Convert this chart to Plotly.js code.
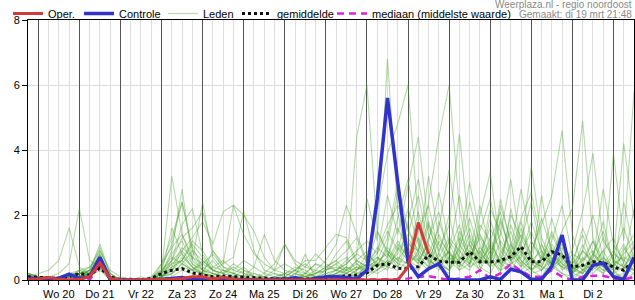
<!DOCTYPE html>
<html>
<head>
<meta charset="utf-8">
<script src="https://cdn.plot.ly/plotly-3.0.1.min.js"></script>
<style>
  html, body { margin: 0; padding: 0; background: #fff; }
  #chart { width: 635px; height: 300px; }
</style>
</head>
<body>
<div id="chart"></div>
<script>
// ---------- data (6-hourly values, first step 19 mrt 18:00) ----------
const startTime = '2024-03-19 18:00';
const stepHours = 6;
const dayLabels = ['Wo 20','Do 21','Vr 22','Za 23','Zo 24','Ma 25','Di 26','Wo 27','Do 28','Vr 29','Za 30','Zo 31','Ma 1','Di 2'];
const firstLabelNoon = '2024-03-20 12:00';
const firstMidnight = '2024-03-20 00:00';
const midnightCount = 15;
const endTime = '2024-04-03 12:00';

const oper = [0.02,0.03,0.08,0.02,0.01,0.02,0.1,0.53,0.05,0,
              0,0,0,0,0.02,0.05,0.1,0.1,0.03,0.08,
              0.02,0,0,0,0,0,0,0,0,0,
              0,0,0,0,0,0,0,0.4,1.77,0.8];

const controle = [0.05,0.03,0.05,0.05,0.18,0.05,0.1,0.7,0.02,0,
                  0,0,0,0.02,0.05,0.08,0.02,0,0.02,0.03,
                  0.02,0.01,0,0,0.02,0.02,0.07,0,0.05,0.1,
                  0.1,0.08,0.03,0.3,2.5,5.6,3.0,0.55,0.1,0.35,
                  0.5,0.02,0,0,0,0.1,0.02,0.33,0.25,0.02,
                  0.02,0.42,1.38,0,0,0.45,0.52,0.1,0.02,0.7];

const gemiddelde = [0.1,0.08,0.05,0.05,0.1,0.2,0.15,0.37,0.1,0.02,
                    0.02,0.01,0.05,0.2,0.3,0.35,0.22,0.15,0.1,0.12,
                    0.1,0.08,0.06,0.05,0.04,0.04,0.03,0.03,0.05,0.08,
                    0.1,0.12,0.15,0.22,0.45,0.5,0.36,0.35,0.41,0.77,
                    0.58,0.55,0.55,0.87,0.56,0.55,0.6,0.72,1.03,0.56,
                    0.56,0.87,0.77,0.4,0.45,0.56,0.53,0.4,0.3,0.6];

const mediaan = [0.12,0,0,0,0,0,0,0.5,0,0,
                 0,0,0,0,0,0,0,0,0,0,
                 0,0,0,0,0,0,0,0,0,0,
                 0,0,0,0,0,0.02,0.02,0.05,0.1,0.12,
                 0.05,0,0.05,0.1,0.3,0.05,0.2,0.5,0.28,0.1,
                 0.1,0.3,0.1,0,0.1,0.13,0.13,0.05,0,0.1];

const leden = [
 [0.1,0,0,0.1,0.2,0.1,0.3,0.6,0.1,0, 0,0,0,0.2,0.8,1.2,0.5,0.2,0.1,0.3, 0.1,0,0,0,0.1,0.2,0.1,0,0.1,0.2, 0.3,0.5,0.8,2.5,1.2,6.8,2.1,0.5,0.3,0.9, 0.4,0.2,1.5,0.8,0.3,1.2,2.1,0.6,0.2,0.4, 1.1,0.5,0.2,0,0.3,0.8,0.4,0.1,0.2,0.6],
 [0.2,0.1,0,0,0.1,0.2,0.2,0.9,0.2,0, 0,0,0,0.1,0.4,0.6,1.1,0.7,0.3,0.2, 0.5,0.3,0.1,0,0,0.1,0.3,0.5,0.2,0.3, 0.4,0.3,4.4,6.0,1.5,0.8,0.4,1.2,0.6,0.3, 1.8,0.9,0.3,0.5,1.4,0.7,0.2,2.2,0.9,0.3, 0.1,0.6,1.3,0.4,0.2,0.5,0.9,0.3,0,0.2],
 [0.1,0,0,0.1,0.1,0.3,0.4,0.7,0.1,0, 0,0,0.1,0.5,1.3,2.4,1.0,0.4,0.2,0.1, 0,0.1,0.2,0.1,0,0,0.2,0.1,0.3,0.6, 1.1,2.3,1.4,0.6,2.1,3.9,4.8,6.0,1.8,0.7, 0.3,0.9,2.6,1.1,0.4,0.2,0.8,1.5,0.6,0.3, 0.7,1.9,0.8,0.2,0.5,1.2,0.4,0.2,0.9,1.4],
 [0.2,0.1,0.1,0,0,0.1,0.3,0.5,0,0, 0,0,0,0.3,3.2,1.4,0.6,0.3,0.1,0, 0.2,0.4,0.1,0,0,0.1,0,0,0.1,0.1, 0.2,0.4,0.3,0.6,0.9,1.7,2.3,1.6,0.8,2.4, 4.4,6.0,2.2,0.7,1.3,0.5,1.8,0.9,2.8,1.2, 0.6,1.5,0.8,0.3,1.1,0.4,0.2,0.8,1.6,0.7],
 [0,0,0,0.1,0.2,0.3,0.2,0.8,0.1,0, 0,0,0,0.2,0.6,1.7,2.2,0.8,0.3,0.5, 2.3,2.0,1.5,0.7,0.3,0.2,0.1,0.1,0.2,0.4, 0.3,0.6,0.9,1.2,0.8,2.6,1.4,2.9,4.4,1.6, 0.9,1.7,4.5,1.3,0.5,1.9,0.7,0.4,1.2,2.4, 0.8,0.3,0.6,0.2,0.9,0.5,1.3,0.6,0.4,0.8],
 [0.1,0.1,0,0,0.1,0.1,0.2,0.6,0,0, 0,0.1,0,0.1,0.3,0.9,0.5,0.3,0.2,0.1, 0.1,0,0,0.1,0.3,1.1,0.5,0.2,0.1,0.3, 0.5,0.2,0.6,0.9,0.4,1.1,2.7,0.8,0.5,1.3, 2.1,0.6,0.9,2.4,1.1,0.4,2.3,1.2,0.5,0.9, 1.7,2.6,4.6,1.4,0.4,0.7,1.8,0.5,0.3,1.1],
 [0.1,0.2,0.3,0.6,1.6,0.4,0.2,0.5,0.1,0, 0,0,0,0,0.2,0.5,0.3,0.2,0.9,0.4, 0.2,0.1,0,0,0.1,0,0.2,0.4,0.3,0.2, 0.1,0.3,0.6,0.4,1.0,0.7,1.9,3.1,1.2,0.6, 0.4,1.2,0.7,0.4,2.0,3.3,1.0,0.6,1.8,0.7, 0.3,0.8,1.5,2.2,4.9,1.3,0.6,0.4,1.0,0.5],
 [0.2,0.1,0.1,0.2,0.5,2.2,0.6,0.4,0.1,0, 0,0,0,0.1,0.5,0.8,0.4,0.2,0.1,0, 0,0,0.1,0.2,0.1,0,0,0.2,0.5,0.3, 0.8,1.2,0.5,0.3,0.7,0.4,0.9,1.4,2.6,1.0, 0.5,0.3,1.1,3.0,1.4,0.8,0.3,0.5,1.6,0.6, 0.4,1.1,0.6,0.9,2.1,3.9,1.2,0.7,4.2,1.9],
 [0.1,0,0,0,0.1,0.2,0.3,1.1,0.2,0, 0,0,0,0.1,0.4,1.0,0.7,0.5,0.3,0.2, 0.4,0.2,0.1,0,0,0.2,0.4,0.3,0.1,0, 0.2,0.4,0.2,0.3,0.5,0.9,0.6,1.1,0.9,3.2, 1.3,0.8,0.4,0.7,1.5,2.5,1.1,0.6,0.9,0.4, 2.6,0.8,0.5,0.3,0.6,0.9,0.4,3.9,1.2,5.8],
 [0.1,0.1,0,0,0.1,0.2,0.1,0.4,0,0, 0,0,0.1,0.3,0.6,0.9,1.3,1.8,1.1,2.1, 2.3,1.4,0.8,0.5,0.3,0.5,0.3,0.1,0.1,0.2, 0.3,0.2,0.1,0.5,0.3,0.6,1.2,0.7,2.1,0.8, 1.6,3.4,1.1,0.6,0.3,0.9,1.4,3.1,1.0,0.5, 0.3,0.6,1.0,0.4,0.2,0.6,2.8,1.1,0.6,0.3],
 [0,0,0,0,0,0.1,0.2,0.7,0.1,0, 0,0,0,0.4,1.1,2.4,0.9,0.3,0.6,0.2, 0.1,0,0,0,0,0,0,0.1,0.2,0.4, 0.6,0.9,1.3,0.5,0.8,1.5,0.9,2.2,1.1,0.5, 0.8,2.0,0.6,1.4,0.7,0.4,1.2,0.8,1.9,2.7, 1.1,0.4,0.7,0.2,0.1,0.4,0.7,0.3,0.5,2.2],
 [0.2,0.1,0,0.1,0.2,0.2,0.4,0.9,0.3,0.1, 0,0,0,0.2,0.9,2.8,0.6,2.4,0.7,0.3, 0.2,0.1,0,0.1,0.2,0.1,0,0,0.1,0.1, 0.2,0.3,0.2,0.4,0.6,1.3,3.0,1.5,0.9,1.8, 0.5,0.9,1.7,0.4,0.6,1.3,0.5,0.3,0.8,1.5, 0.6,1.2,2.3,0.7,0.3,0.2,0.5,0.9,0.4,0.2],
 [0.1,0,0,0,0.1,0.1,0.1,0.3,0,0, 0,0,0,0.1,0.2,0.4,0.3,0.5,0.8,0.4, 0.3,0.6,0.4,0.2,0.5,1.1,0.6,0.4,0.8,0.5, 0.3,0.2,0.4,0.2,0.3,0.5,0.8,1.3,0.7,0.4, 1.2,0.6,0.3,0.8,2.3,0.9,0.4,1.1,0.6,0.3, 0.5,0.9,0.3,0.6,1.4,0.5,0.2,0.6,1.1,0.4],
 [0.2,0.1,0.1,0,0,0.1,0.2,0.5,0.1,0, 0,0,0,0.1,0.3,0.7,0.4,0.2,0.1,0.1, 0,0,0,0,0.1,0.2,0.3,0.6,0.6,1.0, 1.4,1.3,0.6,0.4,1.5,0.9,0.5,1.8,3.1,1.4, 0.6,0.3,1.0,1.9,0.8,0.5,2.5,1.1,0.4,0.7, 0.4,0.3,0.8,0.5,0.9,2.0,0.7,0.4,0.3,0.6],
 [0.1,0,0,0,0.1,0.1,0.2,0.6,0.1,0, 0,0,0,0,0.1,0.3,0.2,0.1,0,0, 0,0,0,0,0,0,0.1,0.8,0,0.1, 0.1,0.2,0.1,0.3,0.2,0.4,0.3,0.6,0.4,0.9, 0.5,0.3,0.7,0.5,1.0,0.6,0.3,0.9,0.5,0.2, 0.3,0.7,0.4,0.2,0.5,0.3,0.6,0.2,0.1,0.4],
 [0.1,0.1,0,0.1,0.1,0.2,0.3,1.0,0.2,0, 0,0,0,0.2,0.5,0.6,0.3,0.2,0.4,0.6, 0.3,0.2,0.1,0.1,0,0,0.1,0.1,0.2,0.3, 0.5,0.7,0.3,0.5,0.4,0.7,1.6,0.9,0.5,1.2, 2.7,1.1,0.5,0.9,0.6,2.2,1.5,0.6,1.0,3.5, 1.3,0.6,0.4,0.8,0.6,1.2,0.5,0.3,2.4,0.9],
 [0,0,0,0,0,0.1,0.2,0.4,0,0, 0,0,0,0.2,1.6,0.8,0.4,0.1,0.2,0.1, 0.1,0,0,0,0,0,0,0,0.1,0.1, 0.1,0.2,0.4,0.3,0.5,0.4,0.7,0.5,1.3,0.6, 0.4,0.7,0.5,0.3,0.9,0.4,0.6,0.4,0.3,0.6, 0.9,0.4,0.2,0.1,0.3,0.5,0.3,0.2,0.4,0.3],
 [0.1,0.1,0,0,0.1,0.2,0.2,0.6,0.1,0, 0,0,0,0.1,0.6,1.3,1.6,2.1,0.9,0.5, 0.7,2.1,0.9,0.3,0.2,0.1,0,0,0,0.1, 0.2,0.1,0.3,0.8,0.5,0.3,1.0,0.6,1.5,2.3, 0.8,0.4,1.3,0.7,0.5,1.1,0.6,1.7,0.8,0.3, 0.6,1.4,0.7,0.3,0.2,0.8,1.5,0.6,0.4,0.9],
 [0.2,0,0,0,0.1,0.3,0.2,0.8,0,0, 0,0,0,0.3,0.7,0.5,0.3,0.6,0.3,0.2, 0.1,0.1,0,0,0,0,0.1,0.2,0.1,0, 0,0.1,0.2,0.1,0.3,0.6,0.4,0.9,0.6,1.7, 1.1,0.5,0.8,1.6,0.6,1.0,0.5,2.0,1.3,0.6, 0.4,1.0,0.5,0.2,0.7,0.4,0.9,1.3,0.5,0.3],
 [0.1,0.1,0.1,0,0.1,0.1,0.1,0.5,0.1,0, 0,0,0,0.1,0.2,0.5,0.9,0.6,0.3,0.1, 0,0,0,0,0,0.1,0.3,0.2,0.5,0.4, 0.6,0.3,0.5,0.2,0.6,0.8,0.5,0.4,0.9,0.6, 1.4,0.8,0.6,1.1,0.5,0.7,1.9,0.8,0.4,1.2, 0.7,0.5,1.1,0.6,0.3,0.6,0.4,0.8,0.6,1.0],
 [0,0,0,0,0.1,0.1,0.3,0.7,0.1,0, 0,0,0,0.5,1.0,1.4,0.7,0.3,0.2,0.1, 0.1,0.3,0.2,0.1,0,0,0,0,0,0.1, 0.3,0.5,0.8,0.6,0.4,1.0,0.6,0.5,0.8,0.4, 0.7,1.3,0.9,0.5,1.7,1.2,0.5,0.7,1.4,0.8, 1.9,0.9,0.4,0.3,0.9,0.6,0.3,0.5,0.7,0.5],
 [0.1,0,0,0,0,0.1,0.2,0.6,0.1,0, 0,0,0,0.1,0.3,0.6,1.2,0.9,0.4,0.3, 0.2,0.1,0.4,1.4,0.6,0.3,0.2,0.1,0,0, 0.1,0.1,0.3,0.5,0.7,0.5,1.1,0.7,0.6,1.1, 0.6,0.9,0.4,1.2,0.8,1.6,0.9,0.5,0.7,1.8, 0.9,0.5,0.8,0.4,1.6,0.8,0.5,0.4,0.8,1.2]
];

// ---------- helpers: time grid ----------
function parseT(s) { const [d, t] = s.split(' '); const [Y, M, D] = d.split('-').map(Number); const [h, m] = t.split(':').map(Number); return Date.UTC(Y, M - 1, D, h, m); }
function fmtT(ms) { return new Date(ms).toISOString().slice(0, 16).replace('T', ' '); }
const H = 3600000;
const t0 = parseT(startTime);
const times = leden[0].map((_, i) => fmtT(t0 + i * stepHours * H));
const noonTicks = dayLabels.map((_, i) => fmtT(parseT(firstLabelNoon) + i * 24 * H));
const midnightTicks = Array.from({length: midnightCount}, (_, i) => fmtT(parseT(firstMidnight) + i * 24 * H));

const traces = [];
leden.forEach((m, k) => {
  traces.push({
    type: 'scatter', mode: 'lines', x: times, y: m, name: 'Leden',
    legend: 'legend3', showlegend: k === 0,
    line: {color: 'rgba(70,160,40,0.40)', width: 1.1},
    hoverinfo: 'skip'
  });
});
traces.push({type: 'scatter', mode: 'lines', x: times, y: mediaan, name: 'mediaan (middelste waarde)',
  legend: 'legend5', line: {color: '#e020e0', width: 2.5, dash: '7px,5px'}, hoverinfo: 'skip'});
traces.push({type: 'scatter', mode: 'lines', x: times, y: gemiddelde, name: 'gemiddelde',
  legend: 'legend4', line: {color: '#111', width: 3, dash: 'dot'}, hoverinfo: 'skip'});
traces.push({type: 'scatter', mode: 'lines', x: times, y: controle, name: 'Controle',
  legend: 'legend2', line: {color: '#3333cc', width: 3.5}, hoverinfo: 'skip'});
traces.push({type: 'scatter', mode: 'lines', x: times.slice(0, oper.length), y: oper, name: 'Oper.',
  legend: 'legend', line: {color: '#d43a3a', width: 3}, hoverinfo: 'skip'});
// carrier for the midnight grid axis
traces.push({type: 'scatter', mode: 'lines', x: [times[0], endTime], y: [null, null], xaxis: 'x2', yaxis: 'y',
  showlegend: false, hoverinfo: 'skip'});

const FONT = 'Liberation Sans, Arial, Helvetica, sans-serif';
function lg(px) {
  return {x: px / 635, xref: 'container', xanchor: 'left', y: 1 - 13.5 / 300, yref: 'container', yanchor: 'middle',
    orientation: 'h', bgcolor: 'rgba(0,0,0,0)', borderwidth: 0, font: {family: FONT, size: 11, color: '#000'}};
}
// plot area: top 20px, height 260px -> paper y for a pixel row
function paperY(py) { return (280 - py) / 260; }

const layout = {
  width: 635, height: 300,
  margin: {l: 28, r: 1, t: 20, b: 20, autoexpand: false},
  paper_bgcolor: '#fff', plot_bgcolor: '#fff',
  font: {family: FONT, size: 11, color: '#000'},
  showlegend: true,
  xaxis: {
    type: 'date', range: [times[0], endTime],
    tickmode: 'array', tickvals: noonTicks, ticktext: dayLabels,
    ticks: 'outside', ticklen: 4, tickcolor: '#222', tickwidth: 1,
    showgrid: true, gridcolor: '#dddddd', gridwidth: 1,
    minor: {dtick: stepHours * H, tick0: times[0], ticks: 'outside', ticklen: 4, tickcolor: '#222',
            showgrid: true, gridcolor: '#dddddd', gridwidth: 1},
    showline: true, linecolor: '#000', linewidth: 1, mirror: true,
    zeroline: false, fixedrange: true,
    tickfont: {family: FONT, size: 11, color: '#000'}
  },
  xaxis2: {
    type: 'date', overlaying: 'x', anchor: 'y', range: [times[0], endTime],
    tickmode: 'array', tickvals: midnightTicks, showticklabels: false, ticks: '',
    showgrid: true, gridcolor: '#555555', gridwidth: 1,
    showline: false, zeroline: false, fixedrange: true
  },
  yaxis: {
    range: [0, 8], tickmode: 'linear', tick0: 0, dtick: 2,
    ticks: 'outside', ticklen: 5, tickcolor: '#000',
    showgrid: true, gridcolor: '#dddddd', gridwidth: 1,
    showline: true, linecolor: '#000', linewidth: 1, mirror: true,
    zeroline: false, fixedrange: true,
    tickfont: {family: FONT, size: 11, color: '#000'}
  },
  legend: lg(8),
  legend2: lg(79),
  legend3: lg(163),
  legend4: lg(237),
  legend5: lg(332),
  annotations: [
    {text: 'Weerplaza.nl - regio noordoost', xref: 'paper', x: 1, xanchor: 'right', yref: 'paper', y: paperY(4.5), yanchor: 'middle',
     showarrow: false, font: {family: FONT, size: 10, color: '#8a8a8a'}, xshift: -1, borderpad: 0},
    {text: 'Gemaakt: di 19 mrt 21:48', xref: 'paper', x: 1, xanchor: 'right', yref: 'paper', y: paperY(14.5), yanchor: 'middle',
     showarrow: false, font: {family: FONT, size: 10, color: '#8a8a8a'}, xshift: -1, borderpad: 0}
  ]
};

Plotly.newPlot('chart', traces, layout, {displayModeBar: false, staticPlot: true});
</script>
</body>
</html>
